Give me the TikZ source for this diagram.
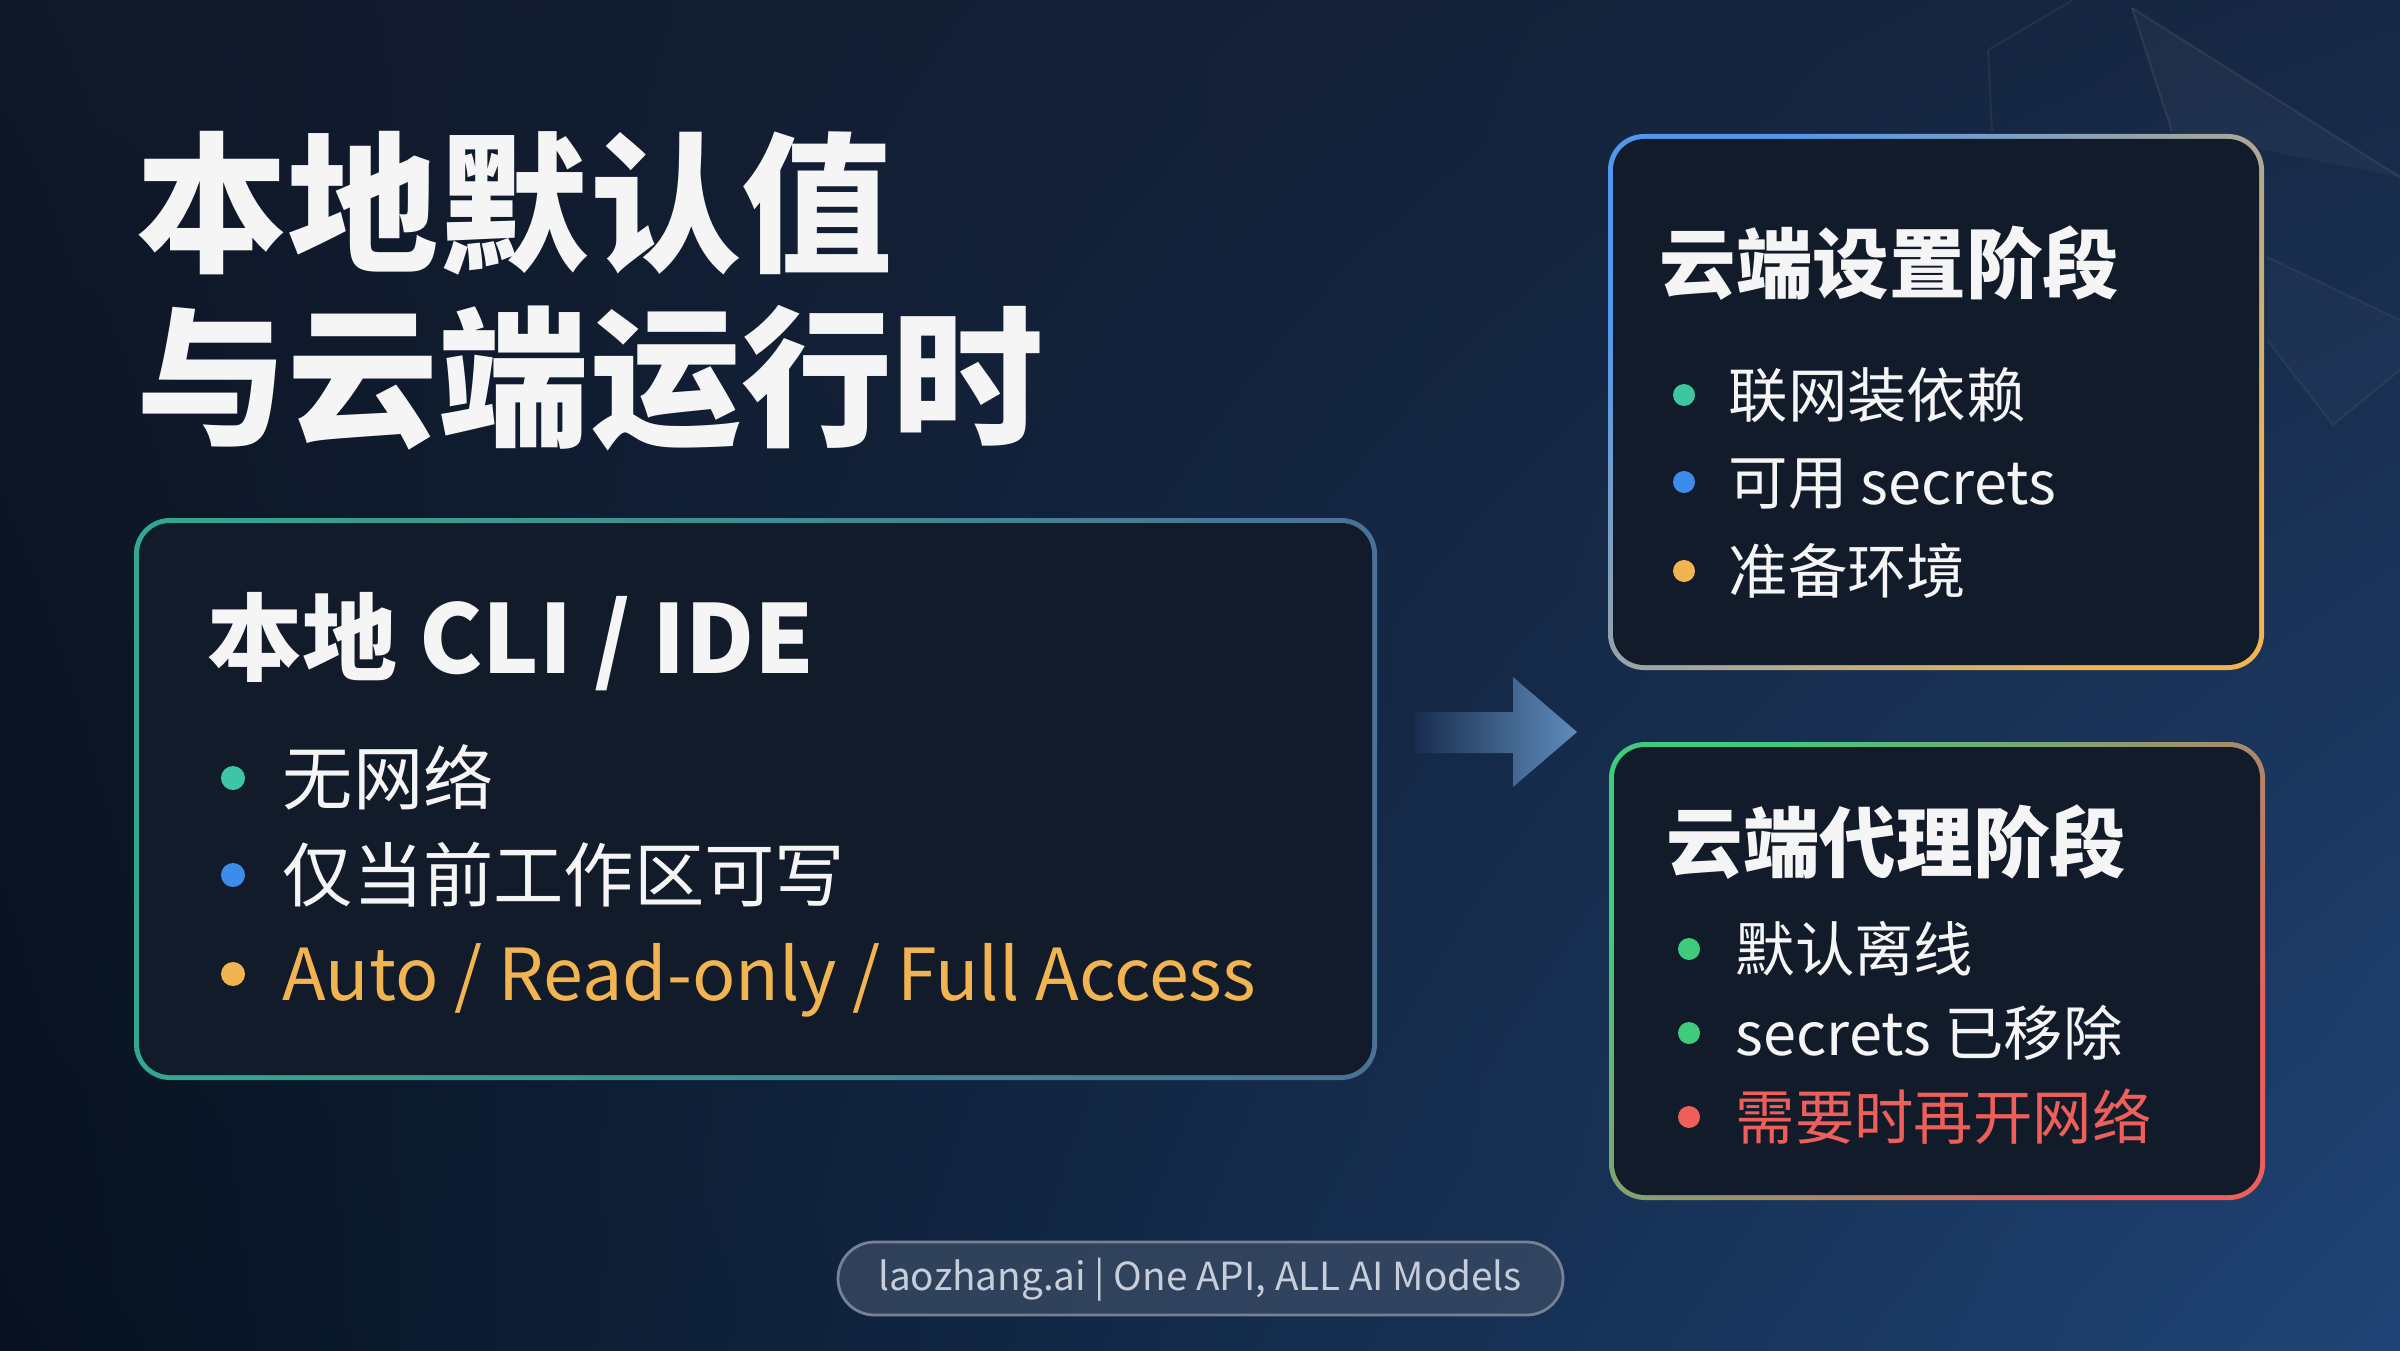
\documentclass[tikz,border=0pt]{standalone}
\usepackage{fontspec}
\setmainfont{Noto Sans CJK SC}
\usetikzlibrary{calc, positioning, shadings}

\definecolor{bgTL}{HTML}{101828}
\definecolor{bgTR}{HTML}{172845}
\definecolor{bgBL}{HTML}{07111F}
\definecolor{bgBR}{HTML}{1F4476}
\definecolor{panelfill}{HTML}{121B2A}
\definecolor{cteal}{HTML}{3CC6A6}
\definecolor{cblue}{HTML}{3D8CEC}
\definecolor{corange}{HTML}{F1B451}
\definecolor{cgreen}{HTML}{3FCB7C}
\definecolor{cred}{HTML}{EE5F5A}
\definecolor{csteel}{HTML}{4A7198}
\definecolor{carrow}{HTML}{5F8CBC}
\definecolor{cpill}{HTML}{3B4B64}
\definecolor{cfoot}{HTML}{C6CEDA}

\begin{document}
\begin{tikzpicture}[
    txt/.style={anchor=base west, inner sep=0pt, text=white!96!black},
    bigtitle/.style={txt, font=\bfseries\fontsize{43}{48}\selectfont},
    boxtitle/.style={txt, font=\bfseries\fontsize{27}{30}\selectfont},
    cardtitle/.style={txt, font=\bfseries\fontsize{21.8}{26}\selectfont},
    biglist/.style={txt, font=\fontsize{20}{24}\selectfont},
    smalllist/.style={txt, font=\fontsize{16.9}{20}\selectfont}
  ]
  \useasboundingbox (0,0) rectangle (24,13.5);

  % --- Background ---
  \shade[upper left=bgTL, upper right=bgTR, lower left=bgBL, lower right=bgBR]
    (0,0) rectangle (24,13.5);
  \fill[white, opacity=.035] (21.32,13.42) -- (24,11.73) -- (21.72,12.18) -- cycle;
  \draw[white, opacity=.07, line width=.6pt] (21.32,13.42) -- (24,11.73);
  \draw[white, opacity=.07, line width=.6pt] (21.32,13.42) -- (21.72,12.18);
  \draw[white, opacity=.05, line width=.6pt] (19.88,13.0) -- (20.73,13.5);
  \draw[white, opacity=.05, line width=.6pt] (19.88,13.0) -- (19.92,12.18);
  \fill[white, opacity=.025] (22.67,10.93) -- (24,10.3) -- (24,9.8) -- (23.33,9.25) -- (22.67,10.1) -- cycle;
  \draw[white, opacity=.05, line width=.6pt] (22.67,10.93) -- (24,10.3);
  \draw[white, opacity=.05, line width=.6pt] (22.67,10.1) -- (23.33,9.25) -- (24,9.8);

  % --- Positions ---
  \coordinate (loc1) at (1.34,8.32);
  \coordinate (loc2) at (13.77,2.70);
  \coordinate (set1) at (16.08,12.16);
  \coordinate (set2) at (22.64,6.80);
  \coordinate (run1) at (16.09,6.08);
  \coordinate (run2) at (22.65,1.50);

  % --- Title ---
  \node[bigtitle] (title1) at (1.36,10.89) {本地默认值};
  \node[bigtitle] (title2) at (1.36,9.16) {与云端运行时};

  % --- Local panel ---
  \shade[rounded corners=.36cm, left color=cteal!85!black, right color=csteel]
    (loc1) rectangle (loc2);
  \fill[panelfill, rounded corners=.31cm]
    ($(loc1)+(.05,-.05)$) rectangle ($(loc2)+(-.05,.05)$);

  \node[boxtitle] (loctitle) at (2.07,6.77) {本地 CLI / IDE};
  \node[biglist] (loc-a) at (2.82,5.46) {无网络};
  \node[biglist] (loc-b) at (2.82,4.49) {仅当前工作区可写};
  \node[biglist, text=corange, font=\fontsize{20.4}{24}\selectfont] (loc-c) at (2.82,3.50) {Auto / Read-only / Full Access};
  \fill[cteal]   ($(loc-a.base west)+(-.49,.26)$) circle (.12);
  \fill[cblue]   ($(loc-b.base west)+(-.49,.26)$) circle (.12);
  \fill[corange] ($(loc-c.base west)+(-.49,.26)$) circle (.12);

  % --- Arrow between stages ---
  \coordinate (tip) at (15.77,6.18);
  \shade[left color=bgTR!80!bgBR, right color=carrow]
    (14.15,6.38) -- (15.13,6.38) -- (15.13,6.73) -- (tip)
    -- (15.13,5.63) -- (15.13,5.97) -- (14.15,5.97) -- cycle;

  % --- Cloud setup panel ---
  \shade[rounded corners=.36cm, left color=cblue!90!white, right color=corange, shading angle=45]
    (set1) rectangle (set2);
  \fill[panelfill, rounded corners=.31cm]
    ($(set1)+(.05,-.05)$) rectangle ($(set2)+(-.05,.05)$);

  \node[cardtitle] (settitle) at (16.59,10.57) {云端设置阶段};
  \node[smalllist] (set-a) at (17.28,9.33) {联网装依赖};
  \node[smalllist] (set-b) at (17.28,8.46) {可用 secrets};
  \node[smalllist] (set-c) at (17.28,7.57) {准备环境};
  \fill[cteal!80!cgreen] ($(set-a.base west)+(-.44,.22)$) circle (.11);
  \fill[cblue]           ($(set-b.base west)+(-.44,.22)$) circle (.11);
  \fill[corange]         ($(set-c.base west)+(-.44,.22)$) circle (.11);

  % --- Cloud agent panel ---
  \shade[rounded corners=.36cm, left color=cgreen, right color=cred, shading angle=45]
    (run1) rectangle (run2);
  \fill[panelfill, rounded corners=.31cm]
    ($(run1)+(.05,-.05)$) rectangle ($(run2)+(-.05,.05)$);

  \node[cardtitle] (runtitle) at (16.66,4.79) {云端代理阶段};
  \node[smalllist] (run-a) at (17.35,3.79) {默认离线};
  \node[smalllist] (run-b) at (17.35,2.95) {secrets 已移除};
  \node[smalllist, text=cred] (run-c) at (17.35,2.11) {需要时再开网络};
  \fill[cgreen] ($(run-a.base west)+(-.46,.22)$) circle (.11);
  \fill[cgreen] ($(run-b.base west)+(-.46,.22)$) circle (.11);
  \fill[cred]   ($(run-c.base west)+(-.46,.22)$) circle (.11);

  % --- Footer ---
  \draw[cpill!70!white, line width=.8pt, fill=cpill, fill opacity=.75, rounded corners=.365cm]
    (8.38,1.08) rectangle (15.63,0.35);
  \node[txt, anchor=base, text=cfoot, font=\fontsize{11}{14}\selectfont] (footer)
    at (12.0,0.6) {laozhang.ai | One API, ALL AI Models};
\end{tikzpicture}
\end{document}
